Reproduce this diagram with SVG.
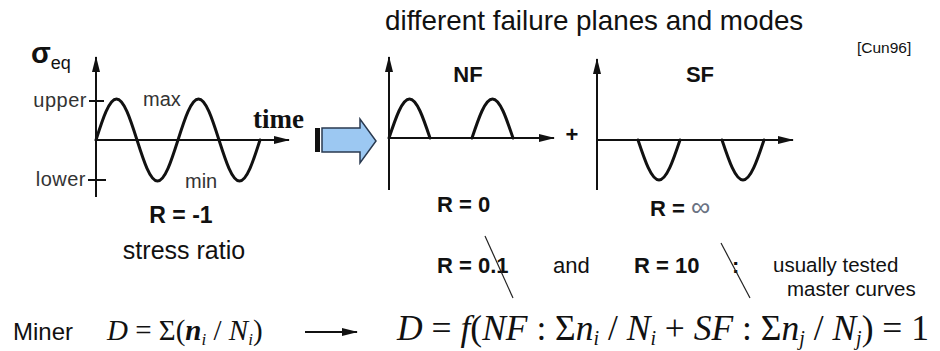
<svg xmlns="http://www.w3.org/2000/svg" width="940" height="351" viewBox="0 0 940 351">
<style>
.sans{font-family:"Liberation Sans",Arial,sans-serif;fill:#111}
.lbl{font-family:"Liberation Sans",Arial,sans-serif;fill:#333;font-size:20px}
.bold{font-weight:bold}
.serif{font-family:"Liberation Serif","Times New Roman",serif;fill:#111}
.it{font-style:italic}
.axis{stroke:#111;stroke-width:2;fill:none}
.wave{stroke:#111;stroke-width:3;fill:none;stroke-linecap:round}
.thin{stroke:#222;stroke-width:1.2;fill:none}
</style>
<defs>
<marker id="ah" markerWidth="16" markerHeight="10" refX="15" refY="5" orient="auto" markerUnits="userSpaceOnUse">
<path d="M0,1 L16,5 L0,9 Z" fill="#111"/>
</marker>
</defs>
<rect width="940" height="351" fill="#fff"/>

<text class="sans" x="385" y="30" font-size="27.8">different failure planes and modes</text>
<text class="sans" x="857" y="53" font-size="15.5">[Cun96]</text>

<g id="chart-left">
<line class="axis" x1="96" y1="197" x2="96" y2="57" marker-end="url(#ah)"/>
<line class="axis" x1="96" y1="140" x2="289" y2="140" marker-end="url(#ah)"/>
<line class="axis" x1="89" y1="101" x2="104" y2="101"/>
<line class="axis" x1="88" y1="180" x2="106" y2="180"/>
<path class="wave" d="M96,140 C102.69,119 109.08,99 116.5,99 C123.92,99 130.31,119 137,140 C143.69,161 150.08,181 157.5,181 C164.92,181 171.31,161 178,140 C184.69,119 191.08,99 198.5,99 C205.92,99 212.31,119 219,140 C225.69,161 232.08,181 239.5,181 C246.92,181 253.31,161 260,140"/>
<text class="sans bold" x="31" y="63" font-size="29" fill="#1a1a3a">σ<tspan font-size="18" font-weight="normal" dy="6">eq</tspan></text>
<text class="lbl" x="87" y="107" text-anchor="end" letter-spacing="0.5">upper</text>
<text class="lbl" x="86" y="186" text-anchor="end" letter-spacing="0.5">lower</text>
<text class="lbl" x="143" y="106">max</text>
<text class="lbl" x="185" y="188">min</text>
<text class="serif bold" x="253" y="128" font-size="27">time</text>
<text class="sans bold" x="181" y="223" font-size="23" text-anchor="middle">R = -1</text>
<text class="sans" x="184" y="259" font-size="25" text-anchor="middle">stress ratio</text>
</g>

<g id="block-arrow">
<rect x="315" y="128" width="5" height="24" fill="#111"/>
<path d="M322,128 L360,128 L360,119 L376,141 L360,163 L360,152 L322,152 Z" fill="#9cc8f2" stroke="#2a3a50" stroke-width="1.5"/>
</g>

<g id="chart-nf">
<line class="axis" x1="389" y1="190" x2="389" y2="57" marker-end="url(#ah)"/>
<line class="axis" x1="389" y1="138" x2="554" y2="138" marker-end="url(#ah)"/>
<path class="wave" d="M389,138 C395.69,118 402.08,99 409.5,99 C416.92,99 423.31,118 430,138"/>
<path class="wave" d="M472,138 C478.69,118 485.08,99 492.5,99 C499.92,99 506.31,118 513,138"/>
<text class="sans bold" x="468" y="82" font-size="22" text-anchor="middle">NF</text>
<text class="sans bold" x="437" y="212" font-size="22">R = 0</text>
</g>

<text class="sans bold" x="572" y="142" font-size="22" text-anchor="middle">+</text>

<g id="chart-sf">
<line class="axis" x1="597" y1="190" x2="597" y2="59" marker-end="url(#ah)"/>
<line class="axis" x1="597" y1="140" x2="793" y2="140" marker-end="url(#ah)"/>
<path class="wave" d="M638,140 C644.85,160.5 651.4,180 659,180 C666.6,180 673.15,160.5 680,140"/>
<path class="wave" d="M722,140 C728.85,160.5 735.4,180 743,180 C750.6,180 757.15,160.5 764,140"/>
<text class="sans bold" x="700" y="82" font-size="22" text-anchor="middle">SF</text>
<text class="sans bold" x="650" y="216" font-size="22">R = <tspan fill="#6a7282" font-size="27" font-weight="normal">∞</tspan></text>
</g>

<g id="tested">
<text class="sans bold" x="437" y="273" font-size="22">R = 0.1</text>
<text class="sans" x="553" y="273" font-size="22">and</text>
<text class="sans bold" x="634" y="273" font-size="22">R = 10</text>
<text class="sans bold" x="732" y="273" font-size="22">:</text>
<text class="sans" x="773" y="272" font-size="20.5">usually tested</text>
<text class="sans" x="787" y="296" font-size="20.5">master curves</text>
</g>

<g id="connectors">
<line class="thin" x1="485" y1="236" x2="513" y2="298"/>
<line class="thin" x1="721" y1="243" x2="750" y2="298"/>
<line x1="305" y1="332" x2="357" y2="332" stroke="#111" stroke-width="2" marker-end="url(#ah)"/>
</g>

<g id="formula">
<text class="sans" x="13" y="340" font-size="24">Miner</text>
<text class="serif" x="107" y="340" font-size="29"><tspan class="it">D</tspan> = Σ(<tspan class="it" font-weight="bold">n</tspan><tspan class="it" font-size="17" dy="5">i</tspan><tspan dy="-5"> / </tspan><tspan class="it">N</tspan><tspan class="it" font-size="17" dy="5">i</tspan><tspan dy="-5">)</tspan></text>
<text class="serif" x="397" y="340" font-size="35.5"><tspan class="it">D</tspan> = <tspan class="it">f</tspan>(<tspan class="it">NF</tspan> : Σ<tspan class="it">n</tspan><tspan class="it" font-size="20" dy="5">i</tspan><tspan dy="-5"> / </tspan><tspan class="it">N</tspan><tspan class="it" font-size="20" dy="5">i</tspan><tspan dy="-5"> + </tspan><tspan class="it">SF</tspan> : Σ<tspan class="it">n</tspan><tspan class="it" font-size="20" dy="5">j</tspan><tspan dy="-5"> / </tspan><tspan class="it">N</tspan><tspan class="it" font-size="20" dy="5">j</tspan><tspan dy="-5">) = 1</tspan></text>
</g>
</svg>
